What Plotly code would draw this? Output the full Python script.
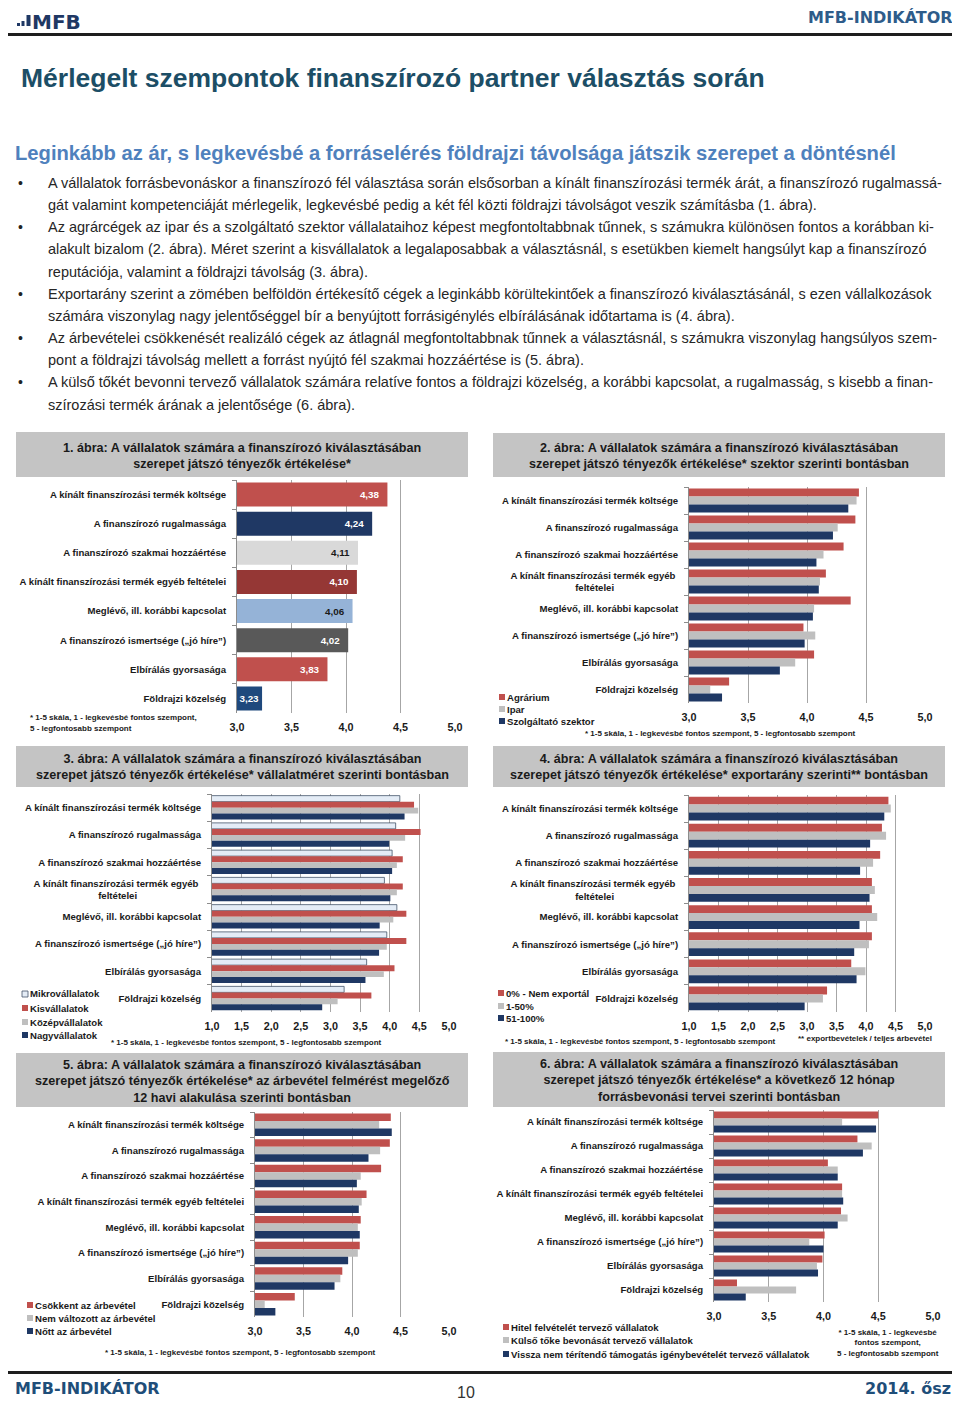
import plotly.graph_objects as go

# ---------------- DATA ----------------
categories = [
    "A kínált finanszírozási termék költsége",
    "A finanszírozó rugalmassága",
    "A finanszírozó szakmai hozzáértése",
    "A kínált finanszírozási termék egyéb feltételei",
    "Meglévő, ill. korábbi kapcsolat",
    "A finanszírozó ismertsége („jó híre”)",
    "Elbírálás gyorsasága",
    "Földrajzi közelség",
]

# 1. ábra
osszes = [4.38, 4.24, 4.11, 4.10, 4.06, 4.02, 3.83, 3.23]
# 2. ábra - szektor
agrarium = [4.44, 4.41, 4.31, 4.16, 4.37, 3.97, 4.06, 3.34]
ipar = [4.42, 4.26, 4.14, 4.11, 4.06, 4.07, 3.90, 3.18]
szolgaltato = [4.35, 4.22, 4.08, 4.10, 4.05, 3.98, 3.77, 3.28]
# 3. ábra - vállalatméret
mikro = [4.17, 4.10, 4.04, 3.91, 4.12, 3.95, 3.61, 3.23]
kis = [4.41, 4.52, 4.22, 4.22, 4.28, 4.28, 4.08, 3.69]
kozep = [4.48, 4.26, 4.12, 4.12, 4.06, 3.95, 3.90, 3.12]
nagy = [4.25, 3.99, 4.04, 4.01, 3.83, 3.82, 3.59, 2.86]
# 4. ábra - exportarány
export_0 = [4.38, 4.27, 4.24, 4.10, 4.10, 4.10, 3.75, 3.34]
export_1_50 = [4.42, 4.34, 4.12, 4.15, 4.19, 4.05, 3.99, 3.27]
export_51_100 = [4.31, 4.07, 3.90, 4.06, 3.89, 3.80, 3.84, 2.96]
# 5. ábra - árbevétel alakulása
csokkent = [4.40, 4.39, 4.30, 4.15, 4.09, 4.08, 3.90, 3.41]
nem_valtozott = [4.28, 4.29, 4.09, 4.10, 4.06, 4.06, 3.88, 3.10]
nott = [4.41, 4.17, 4.05, 4.07, 4.08, 3.96, 3.82, 3.21]
# 6. ábra - forrásbevonási tervek
hitel = [4.50, 4.31, 4.04, 4.17, 4.16, 4.01, 3.99, 3.21]
kulso_toke = [4.17, 4.44, 4.13, 4.17, 4.22, 3.87, 3.94, 3.75]
tamogatas = [4.48, 4.36, 4.13, 4.18, 4.13, 4.00, 3.95, 3.29]

range_3_5 = [3, 5]
range_1_5 = [1, 5]

# ---------------- STYLE ----------------
W, H = 960, 1401
OFF = 8  # page offset of the plot div
def fx(x): return (x - OFF) / W
def fy(y): return 1 - (y - OFF) / H

SANS = "Liberation Sans, Arial, sans-serif"
VERD = "DejaVu Sans, Verdana, sans-serif"
DARK = "#1a1a1a"
RED = "#C0504D"
LGRAY = "#BFBFBF"
NAVY = "#1F3864"
MIKRO = "#E4ECF6"
BOXGRAY = "#C4C4C4"
GRID = "#A6A6A6"

CAT_FS = 9.6
TICK_FS = 10.8
LEG_FS = 9.6
NOTE_FS = 8
TITLE_FS = 12.6
NBSP = "\u00a0"

fig = go.Figure()
shapes, ann = [], []

def text(x, y, s, size, color=DARK, family=SANS, anchor="left", bold=False, valign="middle"):
    ann.append(dict(x=fx(x), y=fy(y), xref="paper", yref="paper",
                    text=f"<b>{s}</b>" if bold else s, showarrow=False,
                    xanchor=anchor, yanchor=valign, align=anchor,
                    font=dict(size=size, color=color, family=family)))

def rect(x0, y0, x1, y1, fill, line=None, lw=0):
    shapes.append(dict(type="rect", xref="paper", yref="paper",
                       x0=fx(x0), x1=fx(x1), y0=fy(y1), y1=fy(y0),
                       fillcolor=fill, line=dict(width=lw, color=line or fill),
                       layer="below"))

# ---------------- HEADER ----------------
rect(17, 23, 20, 26, NAVY)
rect(21.5, 21, 24.5, 26, NAVY)
rect(26.5, 15, 30.5, 26, NAVY)
text(30, 22, "MFB", 20, NAVY, VERD, bold=True)
rect(5, 33, 958, 36, "#1e1e1e")
text(955, 18, "MFB-INDIKÁTOR", 16, "#2E5C8A", VERD, anchor="right", bold=True)
text(19, 78, "Mérlegelt szempontok finanszírozó partner választás során", 26.5, "#1C4E66", SANS, bold=True)
text(13, 153, "Leginkább az ár, s legkevésbé a forráselérés földrajzi távolsága játszik szerepet a döntésnél",
     20.2, "#4F81BD", SANS, bold=True)

body = [
    (True, "A vállalatok forrásbevonáskor a finanszírozó fél választása során elsősorban a kínált finanszírozási termék árát, a finanszírozó rugalmassá-"),
    (False, "gát valamint kompetenciáját mérlegelik, legkevésbé pedig a két fél közti földrajzi távolságot veszik számításba (1. ábra)."),
    (True, "Az agrárcégek az ipar és a szolgáltató szektor vállalataihoz képest megfontoltabbnak tűnnek, s számukra különösen fontos a korábban ki-"),
    (False, "alakult bizalom (2. ábra). Méret szerint a kisvállalatok a legalaposabbak a választásnál, s esetükben kiemelt hangsúlyt kap a finanszírozó"),
    (False, "reputációja, valamint a földrajzi távolság (3. ábra)."),
    (True, "Exportarány szerint a zömében belföldön értékesítő cégek a leginkább körültekintőek a finanszírozó kiválasztásánál, s ezen vállalkozások"),
    (False, "számára viszonylag nagy jelentőséggel bír a benyújtott forrásigénylés elbírálásának időtartama is (4. ábra)."),
    (True, "Az árbevételei csökkenését realizáló cégek az átlagnál megfontoltabbnak tűnnek a választásnál, s számukra viszonylag hangsúlyos szem-"),
    (False, "pont a földrajzi távolság mellett a forrást nyújtó fél szakmai hozzáértése is (5. ábra)."),
    (True, "A külső tőkét bevonni tervező vállalatok számára relatíve fontos a földrajzi közelség, a korábbi kapcsolat, a rugalmasság, s kisebb a finan-"),
    (False, "szírozási termék árának a jelentősége (6. ábra)."),
]
line_y = [183, 205, 227, 249, 272, 294, 316, 338, 360, 382, 405]
for (bullet, s), y in zip(body, line_y):
    if bullet:
        text(16, y, "•", 14, "#222222", SANS)
    text(46, y, s, 14.5, "#262626", SANS)

# ---------------- FOOTER ----------------
rect(5, 1371, 958, 1374, "#1e1e1e")
text(13, 1388, "MFB-INDIKÁTOR", 16, "#1F4E79", VERD, bold=True)
text(466, 1392, "10", 16, "#333333", SANS, anchor="center")
text(953, 1388, "2014. ősz", 16, "#1F4E79", VERD, anchor="right", bold=True)

# ---------------- PANELS ----------------
panels = [
    dict(x0=237, x1=455, y0=480, y1=713, rng=range_3_5),
    dict(x0=689, x1=925, y0=487, y1=703, rng=range_3_5),
    dict(x0=212, x1=449, y0=794, y1=1012, rng=range_1_5),
    dict(x0=689, x1=925, y0=795, y1=1012, rng=range_1_5),
    dict(x0=255, x1=449, y0=1112, y1=1317, rng=range_3_5),
    dict(x0=714, x1=933, y0=1110, y1=1302, rng=range_3_5),
]
wrap_panels = {2, 3, 4}
nb_pad = NBSP * int(round(64 / (0.278 * CAT_FS)))
wrapped = {"A kínált finanszírozási termék egyéb feltételei":
           "A kínált finanszírozási termék egyéb" + NBSP + "<br>feltételei" + nb_pad}

layout_axes = {}
for i, p in enumerate(panels, start=1):
    sx = "" if i == 1 else str(i)
    layout_axes[f"xaxis{sx}"] = dict(
        domain=[fx(p["x0"]), fx(p["x1"])], range=p["rng"], anchor=f"y{sx}",
        tick0=p["rng"][0], dtick=0.5, tickformat=".1f", showgrid=True,
        gridcolor=GRID, gridwidth=1, zeroline=False, showline=False, ticks="",
        tickfont=dict(family=SANS, size=TICK_FS, color=DARK, weight="bold"),
        ticklabelstandoff=6, automargin=False, fixedrange=True)
    layout_axes[f"yaxis{sx}"] = dict(
        domain=[fy(p["y1"]), fy(p["y0"])], anchor=f"x{sx}", type="category",
        autorange="reversed", showline=True, linecolor="#8C8C8C", linewidth=1,
        ticks="outside", tickson="boundaries", ticklen=4, tickcolor="#8C8C8C",
        showgrid=False, tickfont=dict(family=SANS, size=CAT_FS, color=DARK, weight="bold"),
        ticklabelstandoff=8, automargin=False, fixedrange=True)

def ylabels(i):
    if i in wrap_panels:
        return [wrapped.get(c, c) for c in categories]
    return categories

def add_series(i, values, color, line=None):
    sx = "" if i == 1 else str(i)
    fig.add_trace(go.Bar(
        x=values, y=ylabels(i), orientation="h", xaxis=f"x{sx}", yaxis=f"y{sx}",
        marker=dict(color=color, line=dict(width=0.8 if line else 0, color=line or color)),
        showlegend=False, hoverinfo="skip"))

# 1. ábra: one series, varied colours, inside-end labels
colors1 = [RED, NAVY, "#D9D9D9", "#953735", "#95B3D7", "#595959", RED, "#1F497D"]
labcol1 = ["white", "white", DARK, "white", DARK, "white", "white", "white"]
fig.add_trace(go.Bar(
    x=osszes, y=ylabels(1), orientation="h", xaxis="x", yaxis="y",
    marker=dict(color=colors1, line=dict(width=0)), width=0.82,
    texttemplate=["%{x:.2f}" + (NBSP * 2 if v - range_3_5[0] > 0.4 else "") for v in osszes],
    textposition="inside", insidetextanchor="end", textangle=0, constraintext="none",
    textfont=dict(family=SANS, size=9.8, color=labcol1, weight="bold"),
    showlegend=False, hoverinfo="skip"))

for vals, col in [(agrarium, RED), (ipar, LGRAY), (szolgaltato, NAVY)]:
    add_series(2, vals, col)
add_series(3, mikro, MIKRO, line="#44546A")
for vals, col in [(kis, RED), (kozep, LGRAY), (nagy, NAVY)]:
    add_series(3, vals, col)
for vals, col in [(export_0, RED), (export_1_50, LGRAY), (export_51_100, NAVY)]:
    add_series(4, vals, col)
for vals, col in [(csokkent, RED), (nem_valtozott, LGRAY), (nott, NAVY)]:
    add_series(5, vals, col)
for vals, col in [(hitel, RED), (kulso_toke, LGRAY), (tamogatas, NAVY)]:
    add_series(6, vals, col)

# ---------------- TITLE BOXES ----------------
titles = [
    ((16, 432, 468, 477), "1. ábra: A vállalatok számára a finanszírozó kiválasztásában<br>szerepet játszó tényezők értékelése*"),
    ((493, 433, 945, 477), "2. ábra: A vállalatok számára a finanszírozó kiválasztásában<br>szerepet játszó tényezők értékelése* szektor szerinti bontásban"),
    ((16, 746, 468, 787), "3. ábra: A vállalatok számára a finanszírozó kiválasztásában<br>szerepet játszó tényezők értékelése* vállalatméret szerinti bontásban"),
    ((493, 746, 945, 787), "4. ábra: A vállalatok számára a finanszírozó kiválasztásában<br>szerepet játszó tényezők értékelése* exportarány szerinti** bontásban"),
    ((16, 1053, 468, 1107), "5. ábra: A vállalatok számára a finanszírozó kiválasztásában<br>szerepet játszó tényezők értékelése* az árbevétel felmérést megelőző<br>12 havi alakulása szerinti bontásban"),
    ((493, 1052, 945, 1107), "6. ábra: A vállalatok számára a finanszírozó kiválasztásában<br>szerepet játszó tényezők értékelése* a következő 12 hónap<br>forrásbevonási tervei szerinti bontásban"),
]
for (x0, y0, x1, y1), t in titles:
    rect(x0, y0, x1, y1, BOXGRAY)
    text((x0 + x1) / 2, (y0 + y1) / 2 + 1, t, TITLE_FS, DARK, SANS, anchor="center", bold=True)

# ---------------- LEGENDS ----------------
def legend(x, ys, items):
    for y, (label, fill, border) in zip(ys, items):
        rect(x, y - 3, x + 6, y + 3, fill, border, 0.8 if border else 0)
        text(x + 6, y, label, LEG_FS, DARK, SANS, bold=True)

legend(499, [697, 709, 721], [("Agrárium", RED, None), ("Ipar", LGRAY, None), ("Szolgáltató szektor", NAVY, None)])
legend(22, [994, 1008, 1022, 1035], [("Mikrovállalatok", MIKRO, "#44546A"), ("Kisvállalatok", RED, None),
                                     ("Középvállalatok", LGRAY, None), ("Nagyvállalatok", NAVY, None)])
legend(498, [993, 1006, 1018], [("0% - Nem exportál", RED, None), ("1-50%", LGRAY, None), ("51-100%", NAVY, None)])
legend(27, [1305, 1318, 1331], [("Csökkent az árbevétel", RED, None), ("Nem változott az árbevétel", LGRAY, None),
                                ("Nőtt az árbevétel", NAVY, None)])
legend(503, [1327, 1340, 1354], [("Hitel felvételét tervező vállalatok", RED, None),
                                 ("Külső tőke bevonását tervező vállalatok", LGRAY, None),
                                 ("Vissza nem térítendő támogatás igénybevételét tervező vállalatok", NAVY, None)])

# ---------------- FOOTNOTES ----------------
full_note = "* 1-5 skála, 1 - legkevésbé fontos szempont, 5 - legfontosabb szempont"
text(28, 717, "* 1-5 skála, 1 - legkevésbé fontos szempont,", NOTE_FS, DARK, SANS, bold=True)
text(28, 728, "5 - legfontosabb szempont", NOTE_FS, DARK, SANS, bold=True)
text(720, 733, full_note, NOTE_FS, DARK, SANS, anchor="center", bold=True)
text(246, 1042, full_note, NOTE_FS, DARK, SANS, anchor="center", bold=True)
text(640, 1041, full_note, NOTE_FS, DARK, SANS, anchor="center", bold=True)
text(865, 1038, "** exportbevételek / teljes árbevétel", NOTE_FS, DARK, SANS, anchor="center", bold=True)
text(240, 1352, full_note, NOTE_FS, DARK, SANS, anchor="center", bold=True)
text(888, 1343, "* 1-5 skála, 1 - legkevésbé<br>fontos szempont,<br>5 - legfontosabb szempont", NOTE_FS, DARK, SANS,
     anchor="center", bold=True)

fig.update_layout(
    width=W, height=H, margin=dict(l=0, r=0, t=0, b=0, autoexpand=False),
    paper_bgcolor="white", plot_bgcolor="white",
    barmode="group", bargap=0.12, bargroupgap=0,
    separators=",.", showlegend=False,
    shapes=shapes, annotations=ann, **layout_axes)

fig.write_html("out.html")
